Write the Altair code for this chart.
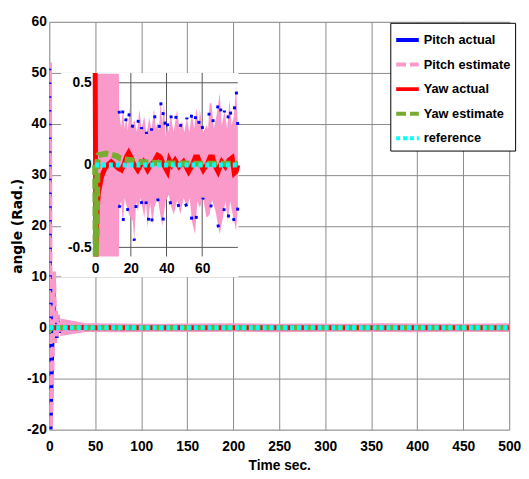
import altair as alt
import pandas as pd

# ---------------- series definitions ----------------
SERIES = ["Pitch actual", "Pitch estimate", "Yaw actual", "Yaw estimate", "reference"]
COLORS = ["#0000FF", "#F99ACB", "#FF0000", "#77AC30", "#00FFFF"]
DASHES = [[1, 0], [10, 4], [1, 0], [10, 4], [4, 3]]

# ---------------- main plot data ----------------
X_TICKS = [0, 50, 100, 150, 200, 250, 300, 350, 400, 450, 500]
Y_TICKS = [-20, -10, 0, 10, 20, 30, 40, 50, 60]

PITCH_T = [0, 0.8, 1.8, 3.5, 5.3, 6.5, 7.5, 8.5, 9.5, 11, 12.5, 14, 500]
PITCH_ACT_V = [0, 51, -21, -7, 10, -3, 3, -2, 2, -1, 0.8, 0, 0]
PITCH_EST_V = [0, 52, -21, -8, 11, -3, 3.5, -2, 2.5, -1, 1, 0, 0]

BAND_T = [12, 40, 80, 120, 160, 200, 240, 280, 320, 360, 400, 440, 480, 500]
BAND_HI = [1.8, 0.9, 0.85, 0.8, 0.85, 0.9, 0.8, 0.85, 0.8, 0.9, 0.85, 0.8, 0.85, 0.9]
BAND_LO = [-1.6, -0.85, -0.9, -0.8, -0.85, -0.8, -0.9, -0.85, -0.8, -0.85, -0.9, -0.8, -0.85, -0.85]

# ---------------- inset data (0..80 s) ----------------
IN_X_TICKS = [0, 20, 40, 60]
IN_Y_TICKS = [-0.5, 0, 0.5]

UP_T = [0, 13.3, 13.4, 14.5, 15.6, 16.5, 17.4, 18.3, 19.3, 20.5, 22, 23.4, 24.8, 26, 27.5,
        28.8, 30.3, 31.6, 33, 34, 34.9, 35.8, 36.7, 37.6, 38.6, 39.5, 40.4, 41.3, 42.2,
        44, 45.9, 47.3, 48.7, 50, 51.4, 52.8, 54.2, 55.5, 56.9, 58, 58.7, 60.5, 62.4,
        63.3, 64.2, 65.2, 66.5, 68, 69.8, 71, 72.5, 74, 75.3, 76.5, 77.8, 79, 80]
UP_V = [0.555, 0.555, 0.33, 0.23, 0.336, 0.22, 0.287, 0.21, 0.346, 0.22, 0.276, 0.2, 0.336,
        0.22, 0.297, 0.19, 0.287, 0.21, 0.346, 0.22, 0.257, 0.21, 0.396, 0.25, 0.376, 0.17,
        0.257, 0.2, 0.316, 0.2, 0.336, 0.22, 0.267, 0.2, 0.287, 0.2, 0.316, 0.22, 0.346,
        0.24, 0.336, 0.2, 0.24, 0.22, 0.376, 0.376, 0.22, 0.3, 0.436, 0.24, 0.33, 0.22,
        0.396, 0.24, 0.3, 0.485, 0.22]

LO_T = [0, 13.3, 13.4, 14.6, 15.6, 16.5, 17.4, 19, 21.1, 21.9, 23, 23.9, 25.5, 27.5, 28.5,
        29.4, 30.8, 32.1, 33.1, 35, 37.6, 39.5, 41.3, 42.5, 44.1, 46, 47.7, 49.6, 51.5,
        53, 54.2, 56, 57.3, 58.7, 60.5, 62.4, 64.2, 65.5, 67.5, 69.8, 71.6, 73, 74.4,
        75.7, 77.1, 79, 80]
LO_V = [-0.555, -0.555, -0.26, -0.22, -0.36, -0.2, -0.24, -0.3, -0.34, -0.46, -0.22, -0.28,
        -0.2, -0.32, -0.22, -0.38, -0.23, -0.36, -0.26, -0.2, -0.37, -0.22, -0.18, -0.25,
        -0.3, -0.21, -0.3, -0.2, -0.26, -0.2, -0.34, -0.42, -0.22, -0.26, -0.2, -0.32,
        -0.3, -0.21, -0.28, -0.42, -0.32, -0.22, -0.34, -0.22, -0.3, -0.4, -0.25]

YAW_T = [0, 0.4, 1.0, 1.8, 3.6, 5.5, 7.3, 9, 11, 13, 14.7, 16, 17.5, 18.8, 20, 21.5, 23.9,
         25.5, 27, 29.4, 31, 33, 35, 36.5, 38, 40.5, 41.6, 43, 44.8, 47, 49.5, 52.4, 54.5,
         56.2, 57.5, 58.8, 60.6, 63, 64.5, 65.8, 67, 68.9, 71, 73, 75, 76.8, 78, 79, 80]
YAW_ACT_V = [0.56, -0.555, -0.3, -0.17, -0.07, -0.02, 0.005, 0.02, 0.0, -0.02, -0.03, 0.0,
             0.05, 0.075, 0.05, 0.01, -0.03, 0.0, 0.02, -0.03, 0.0, 0.02, 0.06, 0.05, 0.01,
             -0.04, 0.03, 0.0, 0.03, -0.01, 0.02, -0.04, 0.0, 0.05, 0.05, 0.01, -0.03, 0.01,
             0.05, 0.05, 0.0, -0.04, 0.02, -0.01, 0.03, 0.045, -0.05, -0.04, 0.0]

YAW_EST_T = [0, 0.3, 0.9, 1.3, 2, 4, 6, 8, 10, 12, 14, 17, 20, 25, 30, 40, 50, 60, 70, 80]
YAW_EST_V = [0.0, -0.555, -0.4, 0.02, 0.06, 0.065, 0.07, 0.065, 0.06, 0.055, 0.04, 0.035,
             0.03, 0.02, 0.015, 0.01, 0.01, 0.008, 0.008, 0.008]

REF_T = [0, 500]
REF_V = [0, 0]

FONT = "Liberation Sans, Arial, sans-serif"
MINUS_FIX = "replace(datum.label, '\u2212', '-')"


def frame(t, v, name):
    return pd.DataFrame({"t": t, "v": v, "series": name})


color_scale = alt.Scale(domain=SERIES, range=COLORS)
dash_scale = alt.Scale(domain=SERIES, range=DASHES)
legend = alt.Legend(
    title=None, orient="none", legendX=347, legendY=1,
    fillColor="white", strokeColor="black", padding=4,
    symbolType="stroke", symbolSize=529, symbolStrokeWidth=4,
    labelFont=FONT, labelFontSize=13, labelFontWeight="bold", labelColor="black",
    rowPadding=3, labelOffset=3, labelLimit=200,
)

# ---------------- main chart ----------------
x_main = alt.Scale(domain=[0, 500], nice=False, zero=False)
y_main = alt.Scale(domain=[-20, 60], nice=False, zero=False)
ax_x = alt.Axis(values=X_TICKS, title="Time sec.", grid=True, gridColor="#8a8a8a",
                ticks=False, domain=False, labelFont=FONT, labelFontSize=14,
                labelFontWeight="bold", labelColor="black", labelPadding=10,
                labelFlush=False, labelOverlap=False, titleFont=FONT, titleFontSize=14,
                titleFontWeight="bold", titleColor="black", titlePadding=6)
ax_y = alt.Axis(values=Y_TICKS, title="angle (Rad.)", grid=True, gridColor="#8a8a8a",
                ticks=False, domain=False, labelFont=FONT, labelFontSize=14,
                labelFontWeight="bold", labelColor="black", labelPadding=3,
                labelFlush=False, labelOverlap=False, labelExpr=MINUS_FIX,
                titleFont="DejaVu Sans", titleFontSize=14, titleFontWeight="bold",
                titleColor="black", titleX=-25, titleY=207.5, titleAngle=270,
                titleBaseline="bottom", titleAlign="center")


def main_line(df, width):
    return alt.Chart(df).mark_line(strokeWidth=width, clip=True).encode(
        x=alt.X("t:Q", scale=x_main, axis=ax_x),
        y=alt.Y("v:Q", scale=y_main, axis=ax_y),
        color=alt.Color("series:N", scale=color_scale, legend=legend),
        strokeDash=alt.StrokeDash("series:N", scale=dash_scale, legend=legend),
    )


band_df = pd.DataFrame({"t": BAND_T, "hi": BAND_HI, "lo": BAND_LO})
main_band = alt.Chart(band_df).mark_area(color=COLORS[1], clip=True).encode(
    x=alt.X("t:Q", scale=x_main, axis=ax_x),
    y=alt.Y("hi:Q", scale=y_main, axis=ax_y),
    y2="lo:Q",
)

main = alt.layer(
    main_band,
    main_line(frame(PITCH_T, PITCH_ACT_V, SERIES[0]), 3),
    main_line(frame(PITCH_T, PITCH_EST_V, SERIES[1]), 4),
    main_line(frame(YAW_T + [500], YAW_ACT_V + [0.0], SERIES[2]), 5),
    main_line(frame(YAW_EST_T + [500], YAW_EST_V + [0.005], SERIES[3]), 5),
    main_line(frame(REF_T, REF_V, SERIES[4]), 5),
)

# ---------------- inset ----------------
x_in = alt.Scale(domain=[0, 80], range=[46.7, 191.9], nice=False, zero=False)
y_in = alt.Scale(domain=[-0.5, 0.5], range=[229.5, 62], nice=False, zero=False)
ax_in_x = alt.Axis(values=IN_X_TICKS, orient="bottom", offset=-175, grid=False, ticks=False,
                   domain=False, title=None, labelFont=FONT, labelFontSize=14,
                   labelFontWeight="bold", labelColor="black", labelPadding=4,
                   labelFlush=False, labelOverlap=False, zindex=2, format="d")
ax_in_y = alt.Axis(values=IN_Y_TICKS, orient="left", offset=-46.7, grid=False, ticks=False,
                   domain=False, title=None, labelFont=FONT, labelFontSize=14,
                   labelFontWeight="bold", labelColor="black", labelPadding=4,
                   labelFlush=False, labelOverlap=False, zindex=2, format=".1~f",
                   labelExpr=MINUS_FIX)


def ix(field="t"):
    return alt.X(f"{field}:Q", scale=x_in, axis=ax_in_x)


def iy(field="v"):
    return alt.Y(f"{field}:Q", scale=y_in, axis=ax_in_y)


bg_df = pd.DataFrame({"x0": [-19.1], "x1": [80.3], "y0": [-0.682], "y1": [0.56]})
inset_bg = alt.Chart(bg_df).mark_rect(fill="white").encode(
    x=ix("x0"), x2="x1:Q", y=iy("y0"), y2="y1:Q")

vgrid_df = pd.DataFrame({"t": [20, 40, 60], "lo": -0.555, "hi": 0.56})
inset_vgrid = alt.Chart(vgrid_df).mark_rule(color="#555555", strokeWidth=1).encode(
    x=ix("t"), y=iy("lo"), y2="hi:Q")
hgrid_df = pd.DataFrame({"v": IN_Y_TICKS, "t0": 0, "t1": 80})
inset_hgrid = alt.Chart(hgrid_df).mark_rule(color="#555555", strokeWidth=1).encode(
    x=ix("t0"), x2="t1:Q", y=iy("v"))

up_df = pd.DataFrame({"t": UP_T, "v": UP_V, "base": 0.0})
lo_df = pd.DataFrame({"t": LO_T, "v": LO_V, "base": 0.0})
inset_up = alt.Chart(up_df).mark_area(color=COLORS[1]).encode(x=ix(), y=iy(), y2="base:Q")
inset_lo = alt.Chart(lo_df).mark_area(color=COLORS[1]).encode(x=ix(), y=iy(), y2="base:Q")

inset_blue_up = alt.Chart(up_df[up_df.t > 13.35]).mark_line(
    color=COLORS[0], strokeWidth=3, strokeDash=[3, 28]).encode(x=ix(), y=iy())
inset_blue_lo = alt.Chart(lo_df[lo_df.t > 13.35]).mark_line(
    color=COLORS[0], strokeWidth=3, strokeDash=[3, 31]).encode(x=ix(), y=iy())


def inset_line(df, width):
    return alt.Chart(df).mark_line(strokeWidth=width).encode(
        x=ix(), y=iy(),
        color=alt.Color("series:N", scale=color_scale, legend=legend),
        strokeDash=alt.StrokeDash("series:N", scale=dash_scale, legend=legend),
    )


inset = alt.layer(
    inset_bg, inset_vgrid, inset_hgrid, inset_up, inset_lo, inset_blue_up, inset_blue_lo,
    inset_line(frame(YAW_T, YAW_ACT_V, SERIES[2]), 5),
    inset_line(frame(YAW_EST_T, YAW_EST_V, SERIES[3]), 6),
    inset_line(frame([0, 80], [0, 0], SERIES[4]), 5),
)

chart = alt.layer(main, inset).resolve_scale(x="independent", y="independent").properties(
    width=468, height=415,
    autosize=alt.AutoSizeParams(type="none"),
    padding={"left": 42, "top": 10, "right": 12, "bottom": 40},
).configure_view(stroke="black", strokeWidth=1).configure(background="white")

chart.save("out.html", embed_options={"renderer": "svg", "actions": False})
